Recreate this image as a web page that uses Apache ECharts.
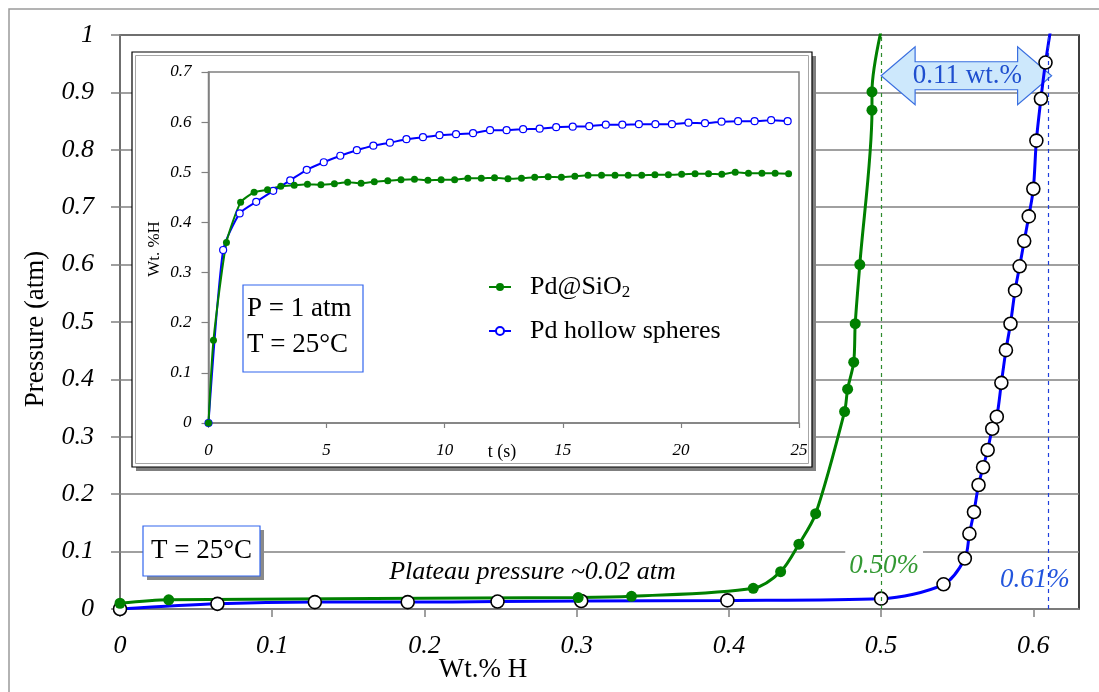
<!DOCTYPE html>
<html><head><meta charset="utf-8">
<script src="https://cdn.jsdelivr.net/npm/echarts@6/dist/echarts.min.js"></script>
<style>html,body{margin:0;padding:0;background:#fff}#c{width:1099px;height:692px}</style>
</head><body><div id="c"></div>
<script>
// ---- Main chart data (Wt.% H vs Pressure) ----
const mainGreenX = [0, 0.032, 0.301, 0.336, 0.416, 0.434, 0.446, 0.457, 0.476, 0.478, 0.482, 0.483, 0.486, 0.494, 0.494, 0.501];
const mainGreenY = [0.010, 0.016, 0.020, 0.022, 0.036, 0.065, 0.113, 0.166, 0.344, 0.383, 0.430, 0.497, 0.600, 0.869, 0.901, 1.02];
const mainBlueX = [0, 0.064, 0.128, 0.189, 0.248, 0.303, 0.399, 0.500, 0.541, 0.555, 0.558, 0.561, 0.564, 0.567, 0.570, 0.573, 0.576, 0.579, 0.582, 0.585, 0.588, 0.591, 0.594, 0.597, 0.600, 0.602, 0.605, 0.608, 0.612];
const mainBlueY = [0, 0.009, 0.012, 0.012, 0.013, 0.014, 0.015, 0.018, 0.043, 0.088, 0.131, 0.169, 0.216, 0.247, 0.277, 0.314, 0.335, 0.394, 0.451, 0.497, 0.555, 0.597, 0.641, 0.684, 0.732, 0.816, 0.889, 0.952, 1.02];
const mainXTicks = [0, 0.1, 0.2, 0.3, 0.4, 0.5, 0.6];
const capacityGreen = 0.50;
const capacityBlue = 0.612;

// ---- Inset data (t (s) vs Wt.%H) ----
const insetGreenT = [0, 0.21, 0.76, 1.36, 1.93, 2.5, 3.06, 3.63, 4.19, 4.76, 5.33, 5.89, 6.46, 7.02, 7.59, 8.15, 8.72, 9.29, 9.85, 10.42, 10.98, 11.55, 12.11, 12.68, 13.25, 13.81, 14.38, 14.94, 15.51, 16.07, 16.64, 17.21, 17.77, 18.34, 18.9, 19.47, 20.03, 20.6, 21.17, 21.73, 22.3, 22.86, 23.43, 23.99, 24.56];
const insetGreenW = [0, 0.165, 0.360, 0.440, 0.460, 0.465, 0.472, 0.474, 0.476, 0.475, 0.477, 0.480, 0.478, 0.481, 0.483, 0.485, 0.486, 0.484, 0.485, 0.485, 0.488, 0.488, 0.489, 0.487, 0.488, 0.490, 0.491, 0.490, 0.492, 0.494, 0.494, 0.494, 0.494, 0.494, 0.495, 0.495, 0.496, 0.497, 0.497, 0.496, 0.500, 0.498, 0.498, 0.498, 0.497];
const insetBlueT = [0, 0.62, 1.32, 2.02, 2.74, 3.46, 4.16, 4.88, 5.58, 6.28, 6.98, 7.68, 8.38, 9.08, 9.78, 10.48, 11.2, 11.92, 12.62, 13.32, 14.02, 14.72, 15.42, 16.12, 16.82, 17.52, 18.22, 18.92, 19.62, 20.32, 21.02, 21.72, 22.42, 23.12, 23.82, 24.52];
const insetBlueW = [0, 0.345, 0.418, 0.441, 0.463, 0.484, 0.505, 0.520, 0.533, 0.544, 0.553, 0.559, 0.566, 0.570, 0.574, 0.576, 0.578, 0.584, 0.584, 0.586, 0.587, 0.590, 0.591, 0.592, 0.595, 0.595, 0.596, 0.596, 0.596, 0.599, 0.598, 0.601, 0.602, 0.602, 0.604, 0.602];

const SERIF = "'Liberation Serif','Times New Roman',serif";
const pair = (xs, ys) => xs.map((x, i) => [x, ys[i]]);

const chart = echarts.init(document.getElementById('c'), null, {renderer: 'canvas'});

const option = {
  animation: false,
  backgroundColor: '#fff',
  grid: [
    {left: 120, top: 35, width: 959, height: 574, show: true, borderColor: '#000', borderWidth: 1.5, backgroundColor: 'rgba(0,0,0,0)', z: 0},
    {left: 208.5, top: 72, width: 590.5, height: 351, show: true, borderColor: '#808080', borderWidth: 1.5, backgroundColor: 'rgba(0,0,0,0)', z: 3}
  ],
  xAxis: [
    {gridIndex: 0, type: 'value', min: 0, max: 0.63, interval: 0.1,
     axisLine: {show: true, onZero: false, lineStyle: {color: '#808080', width: 1.5}},
     axisTick: {show: true, length: 8, customValues: mainXTicks, lineStyle: {color: '#808080', width: 1.5}},
     axisLabel: {customValues: mainXTicks, margin: 24, fontFamily: SERIF, fontStyle: 'italic', fontSize: 26, color: '#000'},
     splitLine: {show: false}},
    {gridIndex: 1, type: 'value', min: 0, max: 25, interval: 5, z: 3,
     axisLine: {show: true, onZero: false, lineStyle: {color: '#808080', width: 1.5}},
     axisTick: {show: true, length: 5, lineStyle: {color: '#808080', width: 1.2}},
     axisLabel: {margin: 19, fontFamily: SERIF, fontStyle: 'italic', fontSize: 17, color: '#000'},
     splitLine: {show: false}}
  ],
  yAxis: [
    {gridIndex: 0, type: 'value', min: 0, max: 1, interval: 0.1,
     axisLine: {show: true, onZero: false, lineStyle: {color: '#808080', width: 1.5}},
     axisTick: {show: true, length: 9, lineStyle: {color: '#808080', width: 1.5}},
     axisLabel: {margin: 26, fontFamily: SERIF, fontStyle: 'italic', fontSize: 26, color: '#000'},
     splitLine: {show: true, lineStyle: {color: '#808080', width: 1.5}}},
    {gridIndex: 1, type: 'value', min: 0, max: 0.7, interval: 0.1, z: 3,
     axisLine: {show: true, onZero: false, lineStyle: {color: '#808080', width: 1.5}},
     axisTick: {show: true, length: 7, lineStyle: {color: '#808080', width: 1.2}},
     axisLabel: {margin: 17, fontFamily: SERIF, fontStyle: 'italic', fontSize: 17, color: '#000'},
     splitLine: {show: false}}
  ],
  legend: [
    {data: ['Pd@SiO2'], left: 488, top: 274, padding: 0, itemWidth: 22, itemHeight: 10, itemGap: 0, z: 6,
     formatter: () => '{a|Pd@SiO}{s|2}',
     textStyle: {rich: {a: {fontFamily: SERIF, fontSize: 26, color: '#000', padding: [0, 0, 0, 14], lineHeight: 28, verticalAlign: 'middle'},
                        s: {fontFamily: SERIF, fontSize: 17, color: '#000', lineHeight: 2, verticalAlign: 'bottom'}}}},
    {data: ['Pd hollow spheres'], left: 488, top: 318, padding: 0, itemWidth: 22, itemHeight: 10, itemGap: 0, z: 6,
     formatter: () => '{a|Pd hollow spheres}',
     textStyle: {rich: {a: {fontFamily: SERIF, fontSize: 26, color: '#000', padding: [0, 0, 0, 14], lineHeight: 28}}}}
  ],
  series: [
    {name: 'main hollow', type: 'line', xAxisIndex: 0, yAxisIndex: 0, data: pair(mainBlueX, mainBlueY),
     smooth: 0.3, clip: true, symbol: 'circle', symbolSize: 13, z: 2,
     lineStyle: {color: '#0000ff', width: 3},
     itemStyle: {color: '#ffffff', borderColor: '#000', borderWidth: 1.6},
     markLine: {silent: true, symbol: 'none', label: {show: false},
       lineStyle: {color: '#1f3fdd', type: [4, 4], width: 1.2}, data: [{xAxis: capacityBlue}]}},
    {name: 'main sio2', type: 'line', xAxisIndex: 0, yAxisIndex: 0, data: pair(mainGreenX, mainGreenY),
     smooth: 0.3, clip: true, symbol: 'circle', symbolSize: 11, z: 2,
     lineStyle: {color: '#008000', width: 3},
     itemStyle: {color: '#008000'},
     markLine: {silent: true, symbol: 'none', label: {show: false},
       lineStyle: {color: '#2e8b2e', type: [4, 4], width: 1.2}, data: [{xAxis: capacityGreen}]}},
    {name: 'Pd hollow spheres', type: 'line', xAxisIndex: 1, yAxisIndex: 1, data: pair(insetBlueT, insetBlueW),
     smooth: 0.2, symbol: 'circle', symbolSize: 7, z: 4,
     lineStyle: {color: '#0000ff', width: 2},
     itemStyle: {color: '#ffffff', borderColor: '#0000ff', borderWidth: 1.2}},
    {name: 'Pd@SiO2', type: 'line', xAxisIndex: 1, yAxisIndex: 1, data: pair(insetGreenT, insetGreenW),
     smooth: 0.2, symbol: 'circle', symbolSize: 7, z: 4,
     lineStyle: {color: '#008000', width: 2},
     itemStyle: {color: '#008000'}}
  ]
};
chart.setOption(option);

// ---- annotations positioned from the chart's own scales ----
const px = (x, y) => chart.convertToPixel({gridIndex: 0}, [x, y]);
const L = px(capacityGreen, 0.929), R = px(capacityBlue, 0.929);
const cy = L[1], hl = 34;
const arrowPts = [[L[0], cy], [L[0] + hl, cy - 29], [L[0] + hl, cy - 14], [R[0] - hl, cy - 14], [R[0] - hl, cy - 29],
                  [R[0], cy], [R[0] - hl, cy + 29], [R[0] - hl, cy + 14], [L[0] + hl, cy + 14], [L[0] + hl, cy + 29]];
const lab50 = px(capacityGreen, 0.075);
const lab61 = px(0.601, 0.05);
const plateau = px(0.271, 0.064);

chart.setOption({
  graphic: [
    {type: 'rect', shape: {x: 9, y: 9, width: 1100, height: 700}, style: {fill: 'none', stroke: '#9a9a9a', lineWidth: 1.5}, z: 0, silent: true},
    // inset frame
    {type: 'rect', shape: {x: 136, y: 56, width: 680, height: 415}, style: {fill: '#7f7f7f'}, z: 1},
    {type: 'rect', shape: {x: 132, y: 52, width: 680, height: 415}, style: {fill: '#fff', stroke: '#000', lineWidth: 1.2}, z: 1},
    {type: 'rect', shape: {x: 135.5, y: 55.5, width: 673, height: 408}, style: {fill: 'none', stroke: '#a6a6a6', lineWidth: 1}, z: 1},
    // main T box
    {type: 'rect', shape: {x: 147, y: 530, width: 117, height: 50}, style: {fill: '#8a8a8a'}, z: 1},
    {type: 'rect', shape: {x: 143, y: 526, width: 117, height: 50}, style: {fill: '#fff', stroke: '#3366ee', lineWidth: 1.2}, z: 1},
    {type: 'text', x: 201.5, y: 551, style: {text: 'T = 25°C', font: '27px ' + SERIF, fill: '#000', textAlign: 'center', textVerticalAlign: 'middle'}, z: 2},
    // inset P/T box
    {type: 'rect', shape: {x: 243, y: 285, width: 120, height: 87}, style: {fill: '#fff', stroke: '#3366ee', lineWidth: 1.2}, z: 5},
    {type: 'text', x: 247, y: 309, style: {text: 'P = 1 atm', font: '27px ' + SERIF, fill: '#000', textAlign: 'left', textVerticalAlign: 'middle'}, z: 6},
    {type: 'text', x: 247, y: 345, style: {text: 'T = 25°C', font: '27px ' + SERIF, fill: '#000', textAlign: 'left', textVerticalAlign: 'middle'}, z: 6},
    // arrow
    {type: 'polygon', shape: {points: arrowPts}, style: {fill: '#cde8fc', stroke: '#3a6fe0', lineWidth: 1.2}, z: 1},
    {type: 'text', x: (L[0] + R[0]) / 2 + 1, y: cy, style: {text: '0.11 wt.%', font: '27px ' + SERIF, fill: '#1f4fcf', textAlign: 'center', textVerticalAlign: 'middle'}, z: 1},
    // labels
    {type: 'text', x: plateau[0], y: plateau[1], style: {text: 'Plateau pressure ~0.02 atm', font: 'italic 26px ' + SERIF, fill: '#000', textAlign: 'center', textVerticalAlign: 'middle'}, z: 3},
    {type: 'text', x: lab50[0] + 3, y: lab50[1], style: {text: '0.50%', font: 'italic 27px ' + SERIF, fill: '#339933', textAlign: 'center', textVerticalAlign: 'middle', backgroundColor: '#fff', padding: [6, 4, 4, 4]}, z: 3},
    {type: 'text', x: lab61[0], y: lab61[1], style: {text: '0.61%', font: 'italic 27px ' + SERIF, fill: '#2255dd', textAlign: 'center', textVerticalAlign: 'middle', backgroundColor: '#fff', padding: [4, 3, 4, 3]}, z: 3},
    // axis titles
    {type: 'text', x: 483, y: 670, style: {text: 'Wt.% H', font: '27px ' + SERIF, fill: '#000', textAlign: 'center', textVerticalAlign: 'middle'}, z: 3},
    {type: 'text', x: 36, y: 329, rotation: Math.PI / 2, style: {text: 'Pressure (atm)', font: '27px ' + SERIF, fill: '#000', textAlign: 'center', textVerticalAlign: 'middle'}, z: 3},
    {type: 'text', x: 155, y: 249, rotation: Math.PI / 2, style: {text: 'Wt. %H', font: '17px ' + SERIF, fill: '#000', textAlign: 'center', textVerticalAlign: 'middle'}, z: 6},
    {type: 'text', x: 502, y: 452, style: {text: 't (s)', font: '18px ' + SERIF, fill: '#000', textAlign: 'center', textVerticalAlign: 'middle'}, z: 6}
  ]
});
</script>
</body></html>
